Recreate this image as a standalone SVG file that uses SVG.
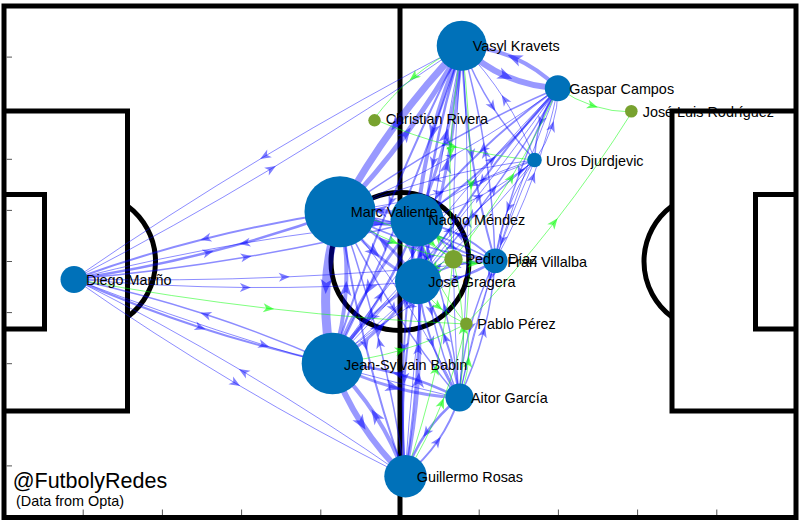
<svg xmlns="http://www.w3.org/2000/svg" width="800" height="522" viewBox="0 0 800 522">
<style>
.pl{fill:none;stroke:#000;stroke-width:5}
.tk{stroke:#555;stroke-width:1}
.e{fill:none;stroke:#0000ff;stroke-opacity:.45;marker-mid:url(#ab)}
.E{fill:none;stroke:#0000ff;stroke-opacity:.4;marker-mid:url(#abL)}
.g{fill:none;stroke:#00ff00;stroke-opacity:.5;stroke-width:1;marker-mid:url(#ag)}
.nb{fill:#0071b9}
.ng{fill:#78a22f}
text{font-family:"Liberation Sans",Arial,Helvetica,sans-serif;font-size:14.4px;fill:#000}
.big{font-size:21.5px}
</style>
<defs>
<marker id="ab" viewBox="-8 -6 14 12" markerWidth="14" markerHeight="12" refX="0" refY="0" orient="auto" markerUnits="userSpaceOnUse" overflow="visible"><path d="M5,0 L-6,-4.5 L-3,0 L-6,4.5 Z" fill="#0000ff" fill-opacity="0.5"/></marker>
<marker id="abL" viewBox="-10 -8 18 16" markerWidth="18" markerHeight="16" refX="0" refY="0" orient="auto" markerUnits="userSpaceOnUse" overflow="visible"><path d="M7,0 L-8,-6 L-4,0 L-8,6 Z" fill="#0000ff" fill-opacity="0.5"/></marker>
<marker id="ag" viewBox="-8 -6 14 12" markerWidth="14" markerHeight="12" refX="0" refY="0" orient="auto" markerUnits="userSpaceOnUse" overflow="visible"><path d="M5,0 L-6,-4.5 L-3,0 L-6,4.5 Z" fill="#00ff00" fill-opacity="0.6"/></marker>
</defs>
<rect x="0" y="0" width="800" height="522" fill="#fff"/>
<g id="pitch">
<rect class="pl" x="4" y="6" width="792" height="511.5"/>
<line class="pl" x1="400" y1="6" x2="400" y2="517.5"/>
<circle class="pl" cx="400" cy="261.5" r="69"/>
<path class="pl" d="M4,111 H127.5 V411 H4"/>
<path class="pl" d="M4,194.5 H44.5 V329 H4"/>
<path class="pl" d="M127.5,206 A69,69 0 0 1 127.5,317"/>
<path class="pl" d="M796,111 H672 V411 H796"/>
<path class="pl" d="M796,194.5 H755.5 V329 H796"/>
<path class="pl" d="M672,206 A69,69 0 0 0 672,317"/>
<g class="tk">
<line x1="6.5" y1="57.1" x2="12" y2="57.1"/><line x1="6.5" y1="159.3" x2="12" y2="159.3"/><line x1="6.5" y1="210.4" x2="12" y2="210.4"/><line x1="6.5" y1="261.5" x2="12" y2="261.5"/><line x1="6.5" y1="312.6" x2="12" y2="312.6"/><line x1="6.5" y1="363.7" x2="12" y2="363.7"/><line x1="6.5" y1="465.9" x2="12" y2="465.9"/>
<line x1="83.2" y1="509.5" x2="83.2" y2="515"/><line x1="162.4" y1="509.5" x2="162.4" y2="515"/><line x1="241.6" y1="509.5" x2="241.6" y2="515"/><line x1="320.8" y1="509.5" x2="320.8" y2="515"/><line x1="479.2" y1="509.5" x2="479.2" y2="515"/><line x1="558.4" y1="509.5" x2="558.4" y2="515"/><line x1="637.6" y1="509.5" x2="637.6" y2="515"/><line x1="716.8" y1="509.5" x2="716.8" y2="515"/>
</g>
</g>
<g id="connectors">
<path class="e" stroke-width="1" d="M74,279 Q174.6,226.8 271.6,168.5 T462,46"/>
<path class="e" stroke-width="1" d="M462,46 Q361.4,98.3 264.4,156.5 T74,279"/>
<path class="e" stroke-width="2.5" d="M74,279 Q142.2,269.1 208.7,252.3 T340,212"/>
<path class="e" stroke-width="2" d="M340,212 Q271.8,222 205.3,238.7 T74,279"/>
<path class="e" stroke-width="1.5" d="M74,279 Q160.9,271.4 246.7,256.9 T417,221"/>
<path class="e" stroke-width="1" d="M417,221 Q330.1,228.6 244.3,243.1 T74,279"/>
<path class="e" stroke-width="1" d="M74,279 Q159.9,286.8 245.9,287.5 T418,282"/>
<path class="e" stroke-width="1" d="M74,279 Q179.6,281.5 284.8,277 T495,261"/>
<path class="e" stroke-width="2" d="M74,279 Q136.3,306.7 200.8,327.7 T332,363"/>
<path class="e" stroke-width="1.5" d="M332,363 Q269.7,335.3 205.2,314.3 T74,279"/>
<path class="e" stroke-width="1" d="M74,279 Q168.2,315.4 264.4,345.2 T459,398"/>
<path class="e" stroke-width="1" d="M74,279 Q153.2,334.3 235.9,383.5 T405,476"/>
<path class="e" stroke-width="1" d="M405,476 Q325.8,420.7 243.1,371.5 T74,279"/>
<path class="E" stroke-width="7" d="M462,46 Q425.9,83.4 395.4,124.9 T340,212"/>
<path class="E" stroke-width="5" d="M340,212 Q376.1,174.7 406.6,133.2 T462,46"/>
<path class="E" stroke-width="6" d="M462,46 Q482,65.7 506,76.2 T558,88"/>
<path class="E" stroke-width="4" d="M558,88 Q538,68.3 514,57.8 T462,46"/>
<path class="E" stroke-width="4" d="M462,46 Q444,88.1 432.7,131.8 T417,221"/>
<path class="E" stroke-width="3" d="M417,221 Q435.1,179 446.3,135.2 T462,46"/>
<path class="e" stroke-width="2.5" d="M462,46 Q444.1,103.7 433.1,162.7 T418,282"/>
<path class="E" stroke-width="3" d="M418,282 Q435.9,224.3 446.9,165.3 T462,46"/>
<path class="e" stroke-width="1.5" d="M462,46 Q474.4,78.3 492.6,106.8 T535,160"/>
<path class="e" stroke-width="1" d="M535,160 Q522.7,127.7 504.4,99.2 T462,46"/>
<path class="e" stroke-width="2" d="M462,46 Q463.4,100.9 471.6,154.6 T495,261"/>
<path class="e" stroke-width="1.5" d="M495,261 Q493.7,206.2 485.4,152.4 T462,46"/>
<path class="e" stroke-width="2" d="M462,46 Q423,122.6 390.5,201.8 T332,363"/>
<path class="e" stroke-width="2" d="M332,363 Q371,286.5 403.5,207.2 T462,46"/>
<path class="e" stroke-width="1" d="M462,46 Q454.3,133.9 453.5,221.9 T459,398"/>
<path class="e" stroke-width="1" d="M459,398 Q466.8,310.1 467.5,222.1 T462,46"/>
<path class="e" stroke-width="1" d="M462,46 Q440.9,152.6 426.6,260.1 T405,476"/>
<path class="e" stroke-width="1.5" d="M558,88 Q500,112.9 445.5,143.9 T340,212"/>
<path class="e" stroke-width="1" d="M340,212 Q398,187.1 452.5,156.1 T558,88"/>
<path class="e" stroke-width="2" d="M558,88 Q518,116.2 482.7,149.4 T417,221"/>
<path class="e" stroke-width="2" d="M417,221 Q457.1,192.9 492.3,159.6 T558,88"/>
<path class="e" stroke-width="2" d="M558,88 Q517.3,132.4 482.3,180.9 T418,282"/>
<path class="e" stroke-width="1.5" d="M418,282 Q458.7,237.6 493.7,189.1 T558,88"/>
<path class="e" stroke-width="1.5" d="M558,88 Q546.5,104.2 540.7,122.2 T535,160"/>
<path class="e" stroke-width="1" d="M535,160 Q546.6,143.8 552.3,125.8 T558,88"/>
<path class="e" stroke-width="1.5" d="M558,88 Q535.7,128.9 519.9,172.1 T495,261"/>
<path class="e" stroke-width="1" d="M495,261 Q517.4,220.2 533.1,176.9 T558,88"/>
<path class="e" stroke-width="1" d="M558,88 Q496.1,152.4 439.6,221.1 T332,363"/>
<path class="e" stroke-width="1" d="M332,363 Q393.9,298.7 450.4,229.9 T558,88"/>
<path class="e" stroke-width="1" d="M558,88 Q526.6,163.4 501.8,240.9 T459,398"/>
<path class="e" stroke-width="1" d="M535,160 Q484.5,166.2 435.7,179.2 T340,212"/>
<path class="e" stroke-width="1" d="M340,212 Q390.6,205.8 439.3,192.8 T535,160"/>
<path class="e" stroke-width="1" d="M535,160 Q502.3,169.1 472.8,184.3 T417,221"/>
<path class="e" stroke-width="1" d="M417,221 Q449.7,212 479.2,196.7 T535,160"/>
<path class="e" stroke-width="1" d="M535,160 Q500.8,185.7 471.5,216.2 T418,282"/>
<path class="e" stroke-width="1" d="M535,160 Q518.5,182.7 508.5,207.9 T495,261"/>
<path class="e" stroke-width="1" d="M535,160 Q479.4,205.9 428.6,256.6 T332,363"/>
<path class="e" stroke-width="1" d="M332,363 Q387.8,317.3 438.5,266.5 T535,160"/>
<path class="e" stroke-width="1" d="M535,160 Q509.3,217.4 490.3,276.9 T459,398"/>
<path class="E" stroke-width="5" d="M340,212 Q358.6,220.5 377.8,222.7 T417,221"/>
<path class="E" stroke-width="4" d="M417,221 Q398.5,212.6 379.2,210.3 T340,212"/>
<path class="E" stroke-width="3" d="M340,212 Q354.8,234.7 374.3,252.2 T418,282"/>
<path class="E" stroke-width="3" d="M418,282 Q403.2,259.3 383.7,241.8 T340,212"/>
<path class="e" stroke-width="1.5" d="M340,212 Q376.7,231 415.4,243.2 T495,261"/>
<path class="e" stroke-width="1.5" d="M495,261 Q458.4,242.1 419.6,229.8 T340,212"/>
<path class="E" stroke-width="9" d="M340,212 Q328,249.3 326,287 T332,363"/>
<path class="E" stroke-width="4" d="M332,363 Q344,325.8 346,288 T340,212"/>
<path class="e" stroke-width="1.5" d="M340,212 Q363.9,262.3 393.6,308.8 T459,398"/>
<path class="e" stroke-width="1" d="M459,398 Q435.2,347.7 405.4,301.2 T340,212"/>
<path class="e" stroke-width="2" d="M340,212 Q349.5,279.7 365.7,345.7 T405,476"/>
<path class="e" stroke-width="1.5" d="M405,476 Q395.6,408.3 379.3,342.3 T340,212"/>
<path class="E" stroke-width="3" d="M417,221 Q412.4,236.4 412.6,251.6 T418,282"/>
<path class="E" stroke-width="3" d="M418,282 Q422.7,266.7 422.4,251.4 T417,221"/>
<path class="e" stroke-width="2" d="M417,221 Q433.3,237.2 452.8,247.2 T495,261"/>
<path class="e" stroke-width="2" d="M495,261 Q478.7,244.8 459.2,234.8 T417,221"/>
<path class="E" stroke-width="3" d="M417,221 Q389.8,252.9 368.5,288.4 T332,363"/>
<path class="e" stroke-width="2.5" d="M332,363 Q359.3,331.1 380.5,295.6 T417,221"/>
<path class="e" stroke-width="1.5" d="M417,221 Q420.7,266.9 431.2,311.1 T459,398"/>
<path class="e" stroke-width="1.5" d="M459,398 Q455.3,352.2 444.8,307.9 T417,221"/>
<path class="e" stroke-width="2" d="M417,221 Q407,284.5 404,348.2 T405,476"/>
<path class="e" stroke-width="2" d="M405,476 Q415,412.6 418,348.8 T417,221"/>
<path class="e" stroke-width="2" d="M418,282 Q439,283 458.2,277.7 T495,261"/>
<path class="e" stroke-width="2" d="M495,261 Q474.1,260.1 454.8,265.3 T418,282"/>
<path class="E" stroke-width="3" d="M418,282 Q391.7,297.2 370.2,317.4 T332,363"/>
<path class="E" stroke-width="3" d="M332,363 Q358.3,347.9 379.8,327.6 T418,282"/>
<path class="e" stroke-width="2" d="M418,282 Q421.7,313.3 431.9,342.3 T459,398"/>
<path class="e" stroke-width="2" d="M459,398 Q455.4,366.7 445.1,337.7 T418,282"/>
<path class="e" stroke-width="2" d="M418,282 Q407.8,330 404.5,378.5 T405,476"/>
<path class="E" stroke-width="3" d="M405,476 Q415.3,428 418.5,379.5 T418,282"/>
<path class="e" stroke-width="1" d="M495,261 Q450.6,280.6 409.8,306.1 T332,363"/>
<path class="e" stroke-width="1.5" d="M495,261 Q479.2,293.5 470.2,327.7 T459,398"/>
<path class="e" stroke-width="1.5" d="M459,398 Q474.8,365.6 483.8,331.3 T495,261"/>
<path class="E" stroke-width="3" d="M332,363 Q361.9,378.6 393.6,387.3 T459,398"/>
<path class="e" stroke-width="2.5" d="M459,398 Q429.2,382.6 397.4,373.8 T332,363"/>
<path class="E" stroke-width="6" d="M332,363 Q343.6,395.6 361.8,423.8 T405,476"/>
<path class="E" stroke-width="4" d="M405,476 Q393.5,443.5 375.2,415.2 T332,363"/>
<path class="e" stroke-width="2.5" d="M459,398 Q439.7,413.5 426.2,433 T405,476"/>
<path class="e" stroke-width="2" d="M405,476 Q424.3,460.5 437.8,441 T459,398"/>
<path class="g" d="M462,46 Q435.5,58.9 413.5,77.1 T374,119"/>
<path class="g" d="M374,119 Q412.6,136.1 452.8,146.3 T535,160"/>
<path class="g" d="M558,88 Q574.6,99.9 593.1,105.9 T632,112"/>
<path class="g" d="M466,324 Q513,275.3 554.5,222.3 T632,112"/>
<path class="g" d="M74,279 Q171.2,297.2 269.2,308.5 T466,324"/>
<path class="g" d="M462,46 Q452.8,99 450.5,152.2 T453,259"/>
<path class="g" d="M462,46 Q470,115.4 471,184.9 T466,324"/>
<path class="g" d="M417,221 Q423,233.4 432,242.9 T453,259"/>
<path class="g" d="M453,259 Q447,246.6 438,237.1 T417,221"/>
<path class="g" d="M418,282 Q428.6,279.1 437.3,273.3 T453,259"/>
<path class="g" d="M453,259 Q442.5,262 433.7,267.7 T418,282"/>
<path class="g" d="M340,212 Q365.6,230.3 393.8,242 T453,259"/>
<path class="g" d="M453,259 Q427.5,240.8 399.2,229 T340,212"/>
<path class="g" d="M453,259 Q463.3,262.9 473.8,263.4 T495,261"/>
<path class="g" d="M405,476 Q423.8,423.3 435.8,369 T453,259"/>
<path class="g" d="M405,476 Q426.8,440.6 442,402.6 T466,324"/>
<path class="g" d="M459,398 Q464.5,363 463,328.2 T453,259"/>
<path class="g" d="M332,363 Q367.5,360 401,350.2 T466,324"/>
<path class="g" d="M418,282 Q426.6,296.3 438.6,306.8 T466,324"/>
<path class="g" d="M417,221 Q423,249.8 435.2,275.5 T466,324"/>
<path class="g" d="M453,259 Q485.3,220 511.5,177.2 T558,88"/>
<path class="g" d="M459,398 Q466.7,380.1 468.4,361.6 T466,324"/>
</g>
<g id="nodes">
<g id="n-diego"><circle class="nb" cx="74" cy="279.5" r="13.5"/><text x="86" y="285">Diego Mariño</text></g>
<g id="n-vasyl"><circle class="nb" cx="461.7" cy="45.7" r="25"/><text x="472.7" y="51.3">Vasyl Kravets</text></g>
<g id="n-gaspar"><circle class="nb" cx="557.8" cy="88.3" r="13"/><text x="569.3" y="93.6">Gaspar Campos</text></g>
<g id="n-joseluis"><circle class="ng" cx="631.3" cy="111.3" r="6.3"/><text x="642.7" y="117.3">José Luis Rodríguez</text></g>
<g id="n-christian"><circle class="ng" cx="374.5" cy="120.3" r="6.2"/><text x="385.7" y="124.4">Christian Rivera</text></g>
<g id="n-uros"><circle class="nb" cx="534.5" cy="160" r="7.3"/><text x="546" y="165.7">Uros Djurdjevic</text></g>
<g id="n-nacho"><circle class="nb" cx="417" cy="220" r="26.5"/><text x="428.3" y="225">Nacho Méndez</text></g>
<g id="n-marc"><circle class="nb" cx="340" cy="211.7" r="35.5"/><text x="350.7" y="216.7">Marc Valiente</text></g>
<g id="n-jose"><circle class="nb" cx="418" cy="281.3" r="23"/><text x="428.3" y="286.8">José Gragera</text></g>
<g id="n-fran"><circle class="nb" cx="495.3" cy="260.8" r="12.3"/><text x="507.3" y="266.6">Fran Villalba</text></g>
<g id="n-pedro"><circle class="ng" cx="453.5" cy="259.3" r="9.2"/><text x="465.5" y="264.4">Pedro Díaz</text></g>
<g id="n-pablo"><circle class="ng" cx="466.3" cy="323.8" r="6.3"/><text x="477.3" y="329.3">Pablo Pérez</text></g>
<g id="n-jean"><circle class="nb" cx="332.5" cy="363.5" r="30.8"/><text x="344" y="370">Jean-Sylvain Babin</text></g>
<g id="n-aitor"><circle class="nb" cx="459.5" cy="397.5" r="14"/><text x="471" y="403.3">Aitor García</text></g>
<g id="n-guillermo"><circle class="nb" cx="405.5" cy="476.2" r="21.2"/><text x="416.7" y="481.7">Guillermo Rosas</text></g>
</g>
<g id="credits">
<text class="big" x="12.7" y="487.5">@FutbolyRedes</text>
<text x="16" y="505.5">(Data from Opta)</text>
</g>
</svg>
